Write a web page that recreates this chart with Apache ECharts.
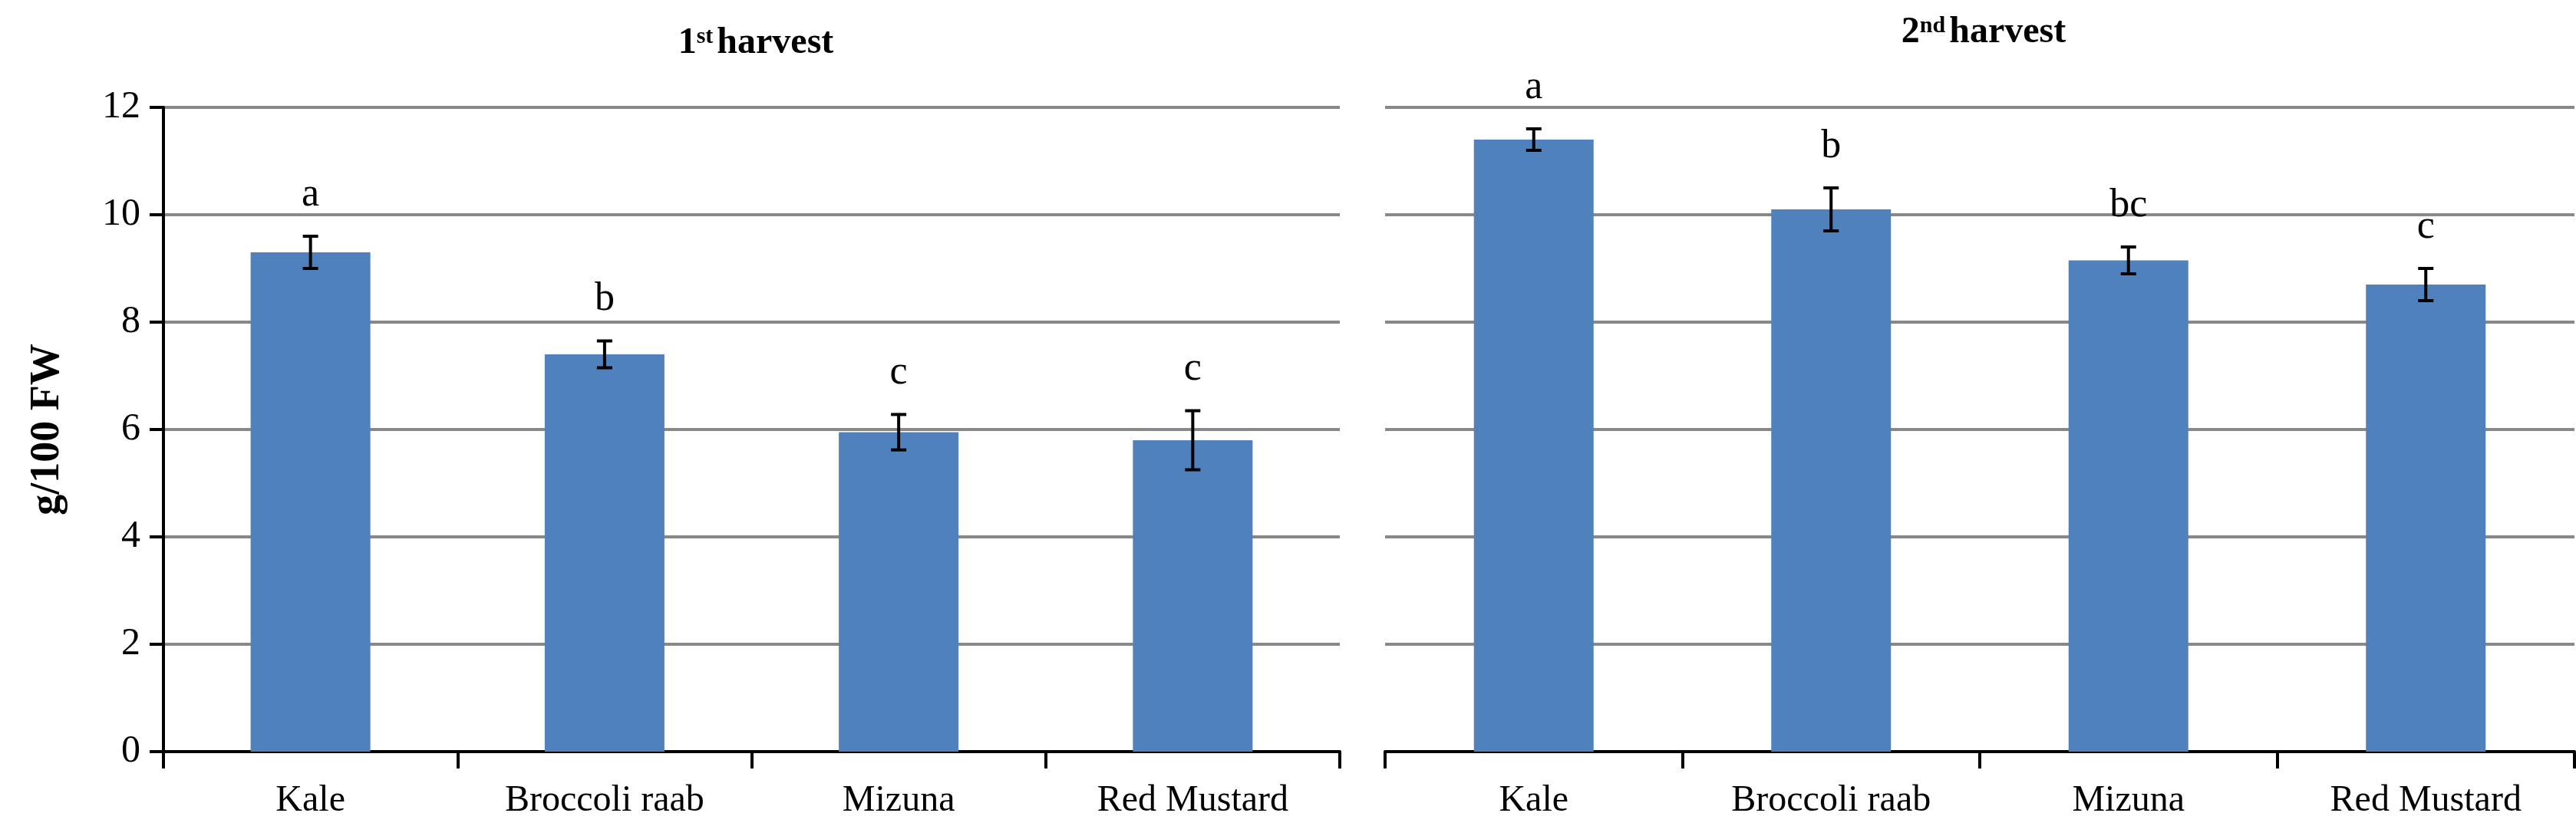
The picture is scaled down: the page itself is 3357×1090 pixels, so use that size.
<!DOCTYPE html>
<html><head><meta charset="utf-8">
<script src="https://cdn.jsdelivr.net/npm/echarts@6/dist/echarts.min.js"></script>
<style>html,body{margin:0;background:#fff}#c{width:3357px;height:1090px}</style>
</head><body><div id="c"></div>
<script>
const categories = ['Kale','Broccoli raab','Mizuna','Red Mustard'];
const harvest1 = [9.3, 7.4, 5.95, 5.8];
const err1 = [0.3, 0.25, 0.33, 0.55];
const letters1 = ['a','b','c','c'];
const harvest2 = [11.4, 10.1, 9.15, 8.7];
const err2 = [0.2, 0.4, 0.25, 0.3];
const letters2 = ['a','b','bc','c'];
const yTicks = [0,2,4,6,8,10,12];

const F = 'Liberation Serif';
const chart = echarts.init(document.getElementById('c'));
function errSeries(idx, vals, errs, letters){
  return {type:'custom', xAxisIndex:idx, yAxisIndex:idx, z:5,
    data: vals.map((v,i)=>[i, v-errs[i], v+errs[i], letters[i]]),
    renderItem:(p,api)=>{
      const lo=api.coord([api.value(0),api.value(1)]);
      const hi=api.coord([api.value(0),api.value(2)]);
      const w=10;
      const st={stroke:'#000',lineWidth:4};
      return {type:'group',children:[
        {type:'line',shape:{x1:lo[0],y1:lo[1],x2:hi[0],y2:hi[1]},style:st},
        {type:'line',shape:{x1:lo[0]-w,y1:lo[1],x2:lo[0]+w,y2:lo[1]},style:st},
        {type:'line',shape:{x1:hi[0]-w,y1:hi[1],x2:hi[0]+w,y2:hi[1]},style:st},
        {type:'text',style:{text:letters[p.dataIndex],x:hi[0],y:hi[1]-28,align:'center',verticalAlign:'bottom',font:'52px "'+F+'"',fill:'#000'}}
      ]};
    }};
}
const xa = idx=>({type:'category',gridIndex:idx,data:categories,
  axisLine:{lineStyle:{color:'#000',width:4}},
  axisTick:{show:true,length:22,lineStyle:{color:'#000',width:4}},
  axisLabel:{fontFamily:F,fontSize:48,color:'#000',margin:40}});
const ya = (idx,show)=>({type:'value',gridIndex:idx,min:0,max:12,interval:2,
  axisLine:{show:show,lineStyle:{color:'#000',width:4}},
  axisTick:{show:show,length:18,lineStyle:{color:'#000',width:4}},
  axisLabel:{show:show,fontFamily:F,fontSize:50,color:'#000',margin:30,formatter:v=>yTicks.includes(v)?String(v):''},
  splitLine:{lineStyle:{color:'#888',width:4}}});
chart.setOption({
  animation:false,
  title:[
    {text:'{n|1}{s|st} {n|harvest}',left:980,top:28,textAlign:'center',textStyle:{rich:{n:{fontFamily:F,fontSize:48,fontWeight:'bold',color:'#000'},s:{fontFamily:F,fontSize:30,fontWeight:'bold',color:'#000',verticalAlign:'top',padding:[0,0,18,0]}}}},
    {text:'{n|2}{s|nd} {n|harvest}',left:2580,top:14,textAlign:'center',textStyle:{rich:{n:{fontFamily:F,fontSize:48,fontWeight:'bold',color:'#000'},s:{fontFamily:F,fontSize:30,fontWeight:'bold',color:'#000',verticalAlign:'top',padding:[0,0,18,0]}}}}
  ],
  graphic:[{type:'text',x:62,y:560,rotation:Math.PI/2,style:{text:'g/100 FW',font:'bold 54px "'+F+'"',fill:'#000',align:'center',verticalAlign:'middle'}}],
  grid:[{left:213,top:140,width:1533,height:840},{left:1805,top:140,width:1550,height:840}],
  xAxis:[xa(0),xa(1)],
  yAxis:[ya(0,true),ya(1,false)],
  series:[
    {type:'bar',xAxisIndex:0,yAxisIndex:0,data:harvest1,barWidth:156,itemStyle:{color:'#4f81bd'}},
    {type:'bar',xAxisIndex:1,yAxisIndex:1,data:harvest2,barWidth:156,itemStyle:{color:'#4f81bd'}},
    errSeries(0,harvest1,err1,letters1),
    errSeries(1,harvest2,err2,letters2)
  ]
});
</script></body></html>
